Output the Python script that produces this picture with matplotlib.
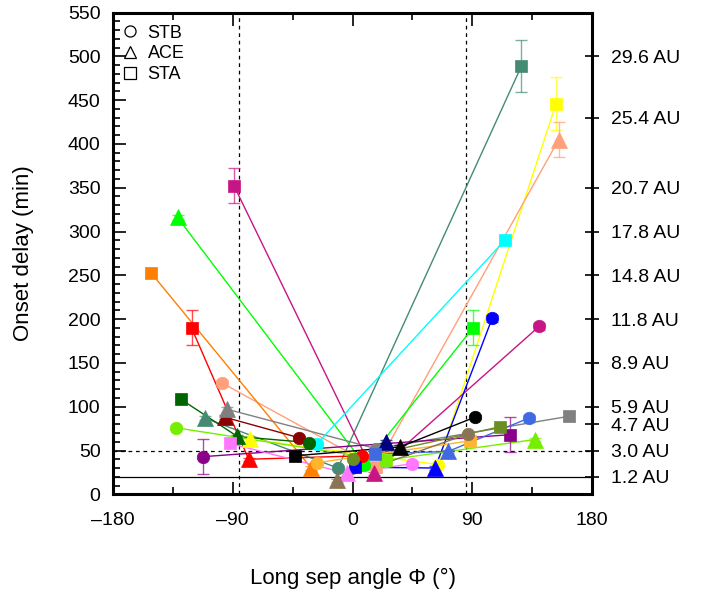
import numpy as np
import matplotlib
matplotlib.use("Agg")
import matplotlib.pyplot as plt
from matplotlib.lines import Line2D

plt.rcParams['font.family'] = ['Liberation Sans', 'DejaVu Sans']

nan = np.nan
# event colours
colors = ["#458B74", "#FFFF00", "#FFA07A", "#C71585", "#00FF00", "#FF7F00", "#FF0000",
          "#8B0000", "#808080", "#00FFFF", "#0000FF", "#006400", "#76EE00", "#8B008B",
          "#FF77FF", "#000000", "#000080", "#4169E1", "#6B8E23", "#FFB52E", "#8B7355"]
# STB (circles)
stb_phi   = [-11, 64, -98, 140.5, 9, nan, 7, -40, 18, -27, 105, -32.5, -133, -112, 45, 92, nan, 132.5, 0.5, -27, 87]
stb_delay = [30, 34, 127, 192, 34, nan, 44, 64.5, 52, 57, 201, 59, 76, 43, 35, 88, nan, 87, 40, 36, 69]
stb_err   = [2, 2, 4, 4, 2, nan, 2, 2, 2, 2, 4, 2, 2, 20, 2, 2, nan, 4, 2, 2, 2]
# ACE (triangles)
ace_phi   = [-111, -77, 155, 16, -131.5, -31, -78, -96, -94, nan, 62, -86.5, 137, nan, -4.5, 35.5, 25, 72, nan, nan, -12]
ace_delay = [87, 63, 405, 24, 316, 30, 40, 88, 97, nan, 30, 66, 62.5, nan, 24, 54, 60, 49, nan, nan, 16]
ace_err   = [2, 2, 20, 2, 3, 2, 2, 2, 3, nan, 2, 2, 2, nan, 2, 2, 2, 2, nan, nan, 2]
# STA (squares)
sta_phi   = [127, 153, 17.5, -89, 90.5, -151.5, -121, nan, 162.5, 114.5, 2, -129, 25, 118, -92, -43, nan, 17, 110.5, 88.5, nan]
sta_delay = [489, 446, 31, 352, 190, 253, 190, nan, 89, 290, 31, 108.5, 39, 68, 58, 44, nan, 46, 77, 61, nan]
sta_err   = [30, 30, 2, 20, 20, 5, 20, nan, 5, 4, 2, 2, 2, 20, 2, 2, nan, 2, 2, 2, nan]

au_ticks  = [20, 50, 80, 100, 150, 200, 250, 300, 350, 430, 500]
au_labels = ["1.2 AU", "3.0 AU", "4.7 AU", "5.9 AU", "8.9 AU", "11.8 AU", "14.8 AU",
             "17.8 AU", "20.7 AU", "25.4 AU", "29.6 AU"]
x_ticks = [-180, -90, 0, 90, 180]
x_labels = ["\u2013180", "\u201390", "0", "90", "180"]

fig = plt.figure(figsize=(7.12, 5.94), dpi=100)
ax = fig.add_axes([113/712, 1-494.3/594, (592-113)/712, (494.3-12.5)/594])

ax.axhline(50, color='black', ls=(0, (3, 3)), lw=0.9, zorder=1)
ax.axhline(20, color='black', lw=0.9, zorder=1)
ax.axvline(-85, color='black', ls=(0, (3, 3)), lw=0.9, zorder=1)
ax.axvline(85, color='black', ls=(0, (3, 3)), lw=0.9, zorder=1)

ms = {'o': 9, '^': 11.5, 's': 9}
for i, c in enumerate(colors):
    pts = []
    for phi, d, e, m in ((stb_phi, stb_delay, stb_err, 'o'),
                         (ace_phi, ace_delay, ace_err, '^'),
                         (sta_phi, sta_delay, sta_err, 's')):
        if not np.isnan(phi[i]):
            pts.append((phi[i], d[i], e[i], m))
    pts.sort(key=lambda p: p[0])
    ax.plot([p[0] for p in pts], [p[1] for p in pts], color=c, lw=1.0, zorder=2 + i * 0.01)
    for p in pts:
        ax.errorbar(p[0], p[1], yerr=p[2], color=c, alpha=0.7, lw=1.0, capsize=4,
                    capthick=1.0, fmt='none', zorder=2 + i * 0.01)
        ax.plot(p[0], p[1], marker=p[3], ms=ms[p[3]], color=c, mec=c, mew=0.5,
                ls='none', zorder=3 + i * 0.01)

ax.set_xlim(-180, 180)
ax.set_ylim(0, 550)
ax.set_xticks(x_ticks)
ax.set_xticklabels(x_labels)
ax.set_xticks([-135, -45, 45, 135], minor=True)
ax.set_yticks(np.arange(0, 551, 50))
ax.set_yticks(np.arange(0, 551, 10), minor=True)
ax.tick_params(axis='both', which='both', direction='in', top=True, right=True,
               labelsize=14, width=1.2)
ax.tick_params(axis='both', which='major', length=9)
ax.tick_params(axis='both', which='minor', length=5)
ax.tick_params(axis='x', pad=13)
ax.tick_params(axis='y', pad=9)
for s in ax.spines.values():
    s.set_linewidth(2.2)

ax2 = ax.twinx()
ax2.set_ylim(0, 550)
ax2.set_yticks(au_ticks)
ax2.set_yticklabels(au_labels)
ax2.tick_params(axis='y', direction='inout', length=10, width=1.2, labelsize=14, pad=9)
for s in ax2.spines.values():
    s.set_visible(False)

ax.set_xlabel("Long sep angle \u03a6 (\u00b0)", fontsize=16, labelpad=28)
ax.set_ylabel("Onset delay (min)", fontsize=16, labelpad=24)

handles = [Line2D([], [], marker=m, ls='none', mfc='none', mec='black', ms=8, mew=0.9)
           for m in ('o', '^', 's')]
ax.legend(handles, ["STB", "ACE", "STA"], loc='upper left', frameon=False, fontsize=13,
          handletextpad=0.5, labelspacing=0.2, borderaxespad=0.6, handlelength=1.0,
          bbox_to_anchor=(-0.022, 1.012))

fig.savefig("out.png", dpi=100)
